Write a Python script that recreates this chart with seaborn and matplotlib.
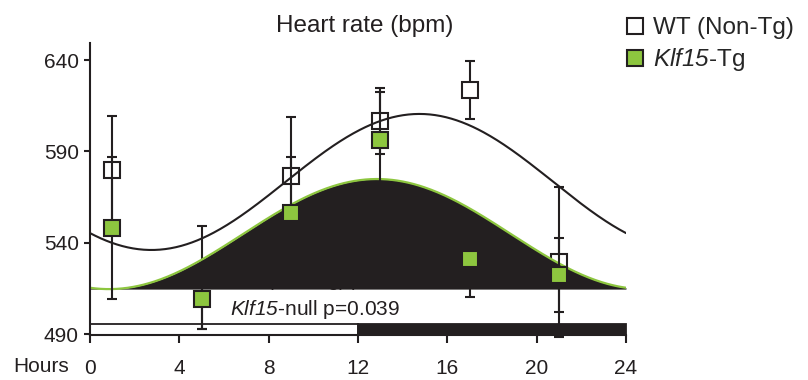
import numpy as np
import matplotlib
matplotlib.use("Agg")
import matplotlib.pyplot as plt
import seaborn as sns
from matplotlib.lines import Line2D

# ---------------- data ----------------
hours = [1, 5, 9, 13, 17, 21]
wt_mean = [580.0, 521.0, 576.6, 606.6, 623.6, 529.6]
wt_err = [29.6, 28.0, 32.2, 18.1, 15.6, 41.0]
tg_mean = [548.2, 509.3, 556.3, 596.5, 531.2, 522.5]
tg_err = [38.8, 16.5, 30.7, 26.0, 20.8, 20.2]

# cosinor fit parameters (mesor, amplitude, acrophase in hours)
wt_fit = (573.3, 37.2, 14.75)
tg_fit = (544.8, 30.1, 12.85)

phase_start = [0, 12]
phase_width = [12, 12]
phase_color = ["white", "#231f20"]

x_ticks = [0, 4, 8, 12, 16, 20, 24]
y_ticks = [490, 540, 590, 640]

BLACK = "#231f20"
GREEN = "#8dc63f"

# ---------------- style ----------------
sns.set_style("ticks")
plt.rcParams["font.family"] = ["Liberation Sans", "DejaVu Sans"]
plt.rcParams["mathtext.fontset"] = "custom"
plt.rcParams["mathtext.rm"] = "Liberation Sans:italic"
plt.rcParams["mathtext.it"] = "Liberation Sans:italic"

fig = plt.figure(figsize=(8.08, 3.80), dpi=100)
ax = fig.add_axes([90 / 808, 1 - 335 / 380, 536 / 808, (335 - 43) / 380])

ymin, ymax = 489.6, 649.3
ax.set_xlim(0, 24)
ax.set_ylim(ymin, ymax)


def cosinor(t, p):
    m, a, phi = p
    return m + a * np.cos(2 * np.pi * (t - phi) / 24.0)


t = np.linspace(0, 24, 400)
wt_curve = cosinor(t, wt_fit)
tg_curve = cosinor(t, tg_fit)
tg_base = tg_fit[0] - tg_fit[1]

# light / dark bar
ax.barh(y=(ymin + 495.6) / 2, width=phase_width, left=phase_start,
        height=495.6 - ymin, color=phase_color, edgecolor=BLACK,
        linewidth=1.3, align="center", zorder=1.5, clip_on=False)

# WT error bars and markers (below fill)
ax.errorbar(hours, wt_mean, yerr=wt_err, fmt="s", ms=11.5, mfc="white",
            mec=BLACK, mew=1.5, ecolor=BLACK, elinewidth=1.5, capsize=3.5,
            capthick=1.5, zorder=2, clip_on=False)

# hidden stat text (mostly under fill)
ax.text(6.35, tg_base + 1.6, "WT (Non-Tg) p<0.001", fontsize=14,
        color=BLACK, ha="left", va="baseline", zorder=2.5)

# Klf15 fitted curve with black fill
ax.fill_between(t, tg_base, tg_curve, color=BLACK, linewidth=0, zorder=3)
sns.lineplot(x=t, y=tg_curve, color=GREEN, linewidth=1.6, ax=ax, zorder=3.5)

# Klf15 error bars and markers
ax.errorbar(hours, tg_mean, yerr=tg_err, fmt="s", ms=11.5, mfc=GREEN,
            mec=BLACK, mew=1.5, ecolor=BLACK, elinewidth=1.5, capsize=3.5,
            capthick=1.5, zorder=4, clip_on=False)

# WT fitted curve
sns.lineplot(x=t, y=wt_curve, color=BLACK, linewidth=1.5, ax=ax, zorder=5)

# stat text
ax.text(6.27, 500.6, r"$Klf15$-null p=0.039", fontsize=15,
        color=BLACK, ha="left", va="baseline", zorder=6)

# axes styling
sns.despine(ax=ax)
for s in ["left", "bottom"]:
    ax.spines[s].set_linewidth(1.5)
    ax.spines[s].set_color(BLACK)
    ax.spines[s].set_zorder(7)
ax.set_xticks(x_ticks)
ax.set_yticks(y_ticks)
ax.tick_params(axis="x", length=6, width=1.5, pad=11, labelsize=15, colors=BLACK)
ax.tick_params(axis="y", length=4, width=1.5, pad=4, labelsize=15, colors=BLACK)
ax.set_xlabel("")
ax.set_ylabel("")

fig.text(13 / 808, 1 - 367 / 380, "Hours", fontsize=15, color=BLACK,
         ha="left", va="center")
fig.text(365 / 808, 1 - 32 / 380, "Heart rate (bpm)", fontsize=17.5,
         color=BLACK, ha="center", va="baseline")

handles = [
    Line2D([], [], marker="s", linestyle="none", ms=11.5, mfc="white",
           mec=BLACK, mew=1.5),
    Line2D([], [], marker="s", linestyle="none", ms=11.5, mfc=GREEN,
           mec=BLACK, mew=1.5),
]
labels = ["WT (Non-Tg)", r"$Klf15$-Tg"]
fig.legend(handles, labels, loc="upper left",
           bbox_to_anchor=(625 / 808, 1 - 17 / 380), frameon=False,
           fontsize=17.5, handlelength=0.8, handletextpad=0.35,
           labelspacing=0.3, borderpad=0, borderaxespad=0)

fig.savefig("out.png", dpi=100)
